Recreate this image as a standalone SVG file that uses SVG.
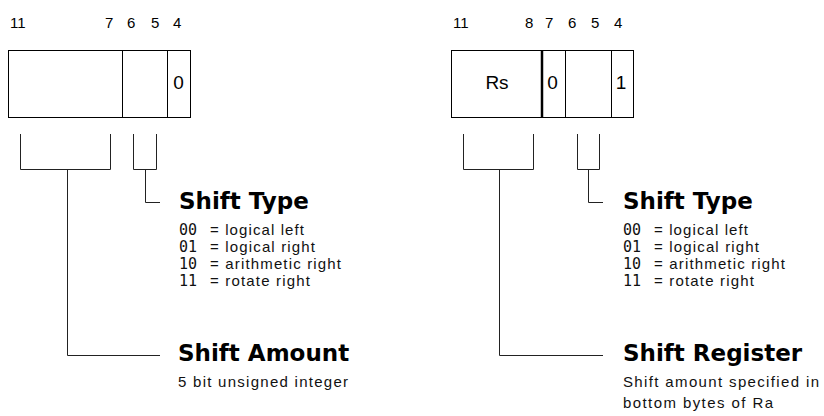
<svg xmlns="http://www.w3.org/2000/svg" width="824" height="416" viewBox="0 0 824 416">
<style>
.box{fill:#fff;stroke:#000;stroke-width:1}
.ln{fill:none;stroke:#222;stroke-width:1}
.dv{stroke:#000;stroke-width:1}
.bit{font-family:"Liberation Sans",Arial,sans-serif;font-size:15px;fill:#000}
.cell{font-family:"Liberation Sans",Arial,sans-serif;font-size:19px;fill:#000;text-anchor:middle}
.hd{font-family:"DejaVu Sans",sans-serif;font-weight:bold;font-size:23px;fill:#000}
.tx{font-family:"Liberation Sans",Arial,sans-serif;font-size:15px;fill:#111}
.code{font-family:"DejaVu Sans Mono",monospace;font-size:15px;fill:#111}
</style>
<rect width="824" height="416" fill="#fff"/>
<g id="reg-imm">
<rect class="box" x="8.5" y="50.5" width="182" height="67"/>
<line class="dv" x1="122.5" y1="50.5" x2="122.5" y2="117.5"/>
<line class="dv" x1="167.5" y1="50.5" x2="167.5" y2="117.5"/>
<text class="cell" x="178.5" y="89">0</text>
<text class="bit" x="10" y="28">11</text>
<text class="bit" x="105" y="28">7</text>
<text class="bit" x="127" y="28">6</text>
<text class="bit" x="151" y="28">5</text>
<text class="bit" x="173" y="28">4</text>
</g>
<g id="reg-reg">
<rect class="box" x="451.5" y="50.5" width="182" height="67"/>
<line x1="542" y1="50.5" x2="542" y2="117.5" stroke="#000" stroke-width="2.5"/>
<line class="dv" x1="565.5" y1="50.5" x2="565.5" y2="117.5"/>
<line class="dv" x1="611.5" y1="50.5" x2="611.5" y2="117.5"/>
<text class="cell" x="497" y="89">Rs</text>
<text class="cell" x="552.5" y="89">0</text>
<text class="cell" x="621" y="89">1</text>
<text class="bit" x="453" y="28">11</text>
<text class="bit" x="525" y="28">8</text>
<text class="bit" x="545" y="28">7</text>
<text class="bit" x="568" y="28">6</text>
<text class="bit" x="591" y="28">5</text>
<text class="bit" x="614" y="28">4</text>
</g>
<g id="connectors">
<path class="ln" d="M20.5,134 V169.5 H110.5 V134"/>
<path class="ln" d="M67.5,169.5 V355.5 H160"/>
<path class="ln" d="M133.5,134 V169.5 H156.5 V134"/>
<path class="ln" d="M145.5,169.5 V202.5 H160"/>
<path class="ln" d="M463.5,134 V169.5 H533.5 V134"/>
<path class="ln" d="M499.5,169.5 V355.5 H603"/>
<path class="ln" d="M577.5,134 V169.5 H599.5 V134"/>
<path class="ln" d="M588.5,169.5 V202.5 H603"/>
</g>
<g id="shift-type-left">
<text class="hd" x="179" y="209">Shift Type</text>
<text class="code" x="179" y="235">00</text><text class="tx" x="210" y="235" textLength="94" lengthAdjust="spacing">= logical left</text>
<text class="code" x="179" y="252">01</text><text class="tx" x="210" y="252" textLength="105" lengthAdjust="spacing">= logical right</text>
<text class="code" x="179" y="269">10</text><text class="tx" x="210" y="269" textLength="131" lengthAdjust="spacing">= arithmetic right</text>
<text class="code" x="179" y="286">11</text><text class="tx" x="210" y="286" textLength="100" lengthAdjust="spacing">= rotate right</text>
</g>
<g id="shift-amount">
<text class="hd" x="178" y="361">Shift Amount</text>
<text class="tx" x="178" y="387" textLength="170" lengthAdjust="spacing">5 bit unsigned integer</text>
</g>
<g id="shift-type-right">
<text class="hd" x="623" y="209">Shift Type</text>
<text class="code" x="623" y="235">00</text><text class="tx" x="654" y="235" textLength="94" lengthAdjust="spacing">= logical left</text>
<text class="code" x="623" y="252">01</text><text class="tx" x="654" y="252" textLength="105" lengthAdjust="spacing">= logical right</text>
<text class="code" x="623" y="269">10</text><text class="tx" x="654" y="269" textLength="131" lengthAdjust="spacing">= arithmetic right</text>
<text class="code" x="623" y="286">11</text><text class="tx" x="654" y="286" textLength="100" lengthAdjust="spacing">= rotate right</text>
</g>
<g id="shift-register">
<text class="hd" x="623" y="361">Shift Register</text>
<text class="tx" x="623" y="387" textLength="196" lengthAdjust="spacing">Shift amount specified in</text>
<text class="tx" x="623" y="408" textLength="150" lengthAdjust="spacing">bottom bytes of Ra</text>
</g>
</svg>
